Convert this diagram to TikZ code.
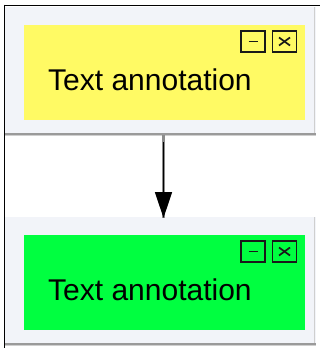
\documentclass[tikz,border=0pt]{standalone}
\usepackage{fontspec}
\setmainfont{Liberation Sans}
\usetikzlibrary{arrows.meta}
\definecolor{panelbg}{HTML}{F2F4F9}
\definecolor{shadowA}{HTML}{9A9A9A}
\definecolor{shadowB}{HTML}{CFCFCF}
\definecolor{noteyellow}{HTML}{FFFA64}
\definecolor{notegreen}{HTML}{00FF40}
\tikzset{
  panel/.style={fill=panelbg, draw=none, anchor=north west, inner sep=0pt,
    minimum width=311pt, minimum height=126pt},
  notebox/.style={draw=none, anchor=north west, inner sep=0pt,
    minimum width=281pt, minimum height=95pt},
  notetext/.style={anchor=base west, inner sep=0pt, text=black,
    font=\fontsize{30}{30}\selectfont},
  btn/.style={draw=black!90, line width=1.7pt, inner sep=0pt,
    minimum width=24pt, minimum height=21pt},
  btnmark/.style={black!90, line width=1.7pt},
  shadow/.style={shadowA, line width=1.6pt},
  shadowlight/.style={shadowB, line width=1pt},
  frame/.style={black, line width=1.6pt},
  linkshade/.style={black!45, line width=3.4pt},
  linkarrow/.style={black, line width=1.4pt, -{Triangle[length=26pt, width=17pt]}}
}
\begin{document}
\begin{tikzpicture}[x=1pt, y=-1pt]
\useasboundingbox[fill=white] (0,0) rectangle (320,348);
% panels
\node[panel] (p1) at (5,7) {};
\node[panel] (p2) at (5,217) {};
% panel shadows (right and bottom edges)
\draw[shadowlight] (p1.north east) ++(-1.5,0) -- ++(0,126);
\draw[shadow] (p1.south west) ++(0,0.5) -- ++(311,0);
\draw[shadowlight] (p1.south west) ++(0,2) -- ++(311,0);
\draw[shadowlight] (p2.north east) ++(-1.5,0) -- ++(0,126);
\draw[shadow] (p2.south west) ++(0,0.5) -- ++(311,0);
\draw[shadowlight] (p2.south west) ++(0,2) -- ++(311,0);
% coloured notes
\node[notebox, fill=noteyellow] (n1) at (24,25) {};
\node[notebox, fill=notegreen] (n2) at (24,235) {};
% texts
\node[notetext] (t1) at (48,90.5) {Text annotation};
\node[notetext] (t2) at (48,300) {Text annotation};
% buttons top
\node[btn] (m1) at (253,41.5) {};
\node[btn] (c1) at (284.5,41.5) {};
\draw[btnmark] ([xshift=-4.5pt]m1.center) -- ([xshift=4.5pt]m1.center);
\draw[btnmark] ([shift={(-5.5,-4)}]c1.center) -- ([shift={(5.5,4)}]c1.center);
\draw[btnmark] ([shift={(-5.5,4)}]c1.center) -- ([shift={(5.5,-4)}]c1.center);
% buttons bottom
\node[btn] (m2) at (253,251.5) {};
\node[btn] (c2) at (284.5,251.5) {};
\draw[btnmark] ([xshift=-4.5pt]m2.center) -- ([xshift=4.5pt]m2.center);
\draw[btnmark] ([shift={(-5.5,-4)}]c2.center) -- ([shift={(5.5,4)}]c2.center);
\draw[btnmark] ([shift={(-5.5,4)}]c2.center) -- ([shift={(5.5,-4)}]c2.center);
% connector
\coordinate (top) at (163.5,135);
\coordinate (bot) at (163.5,218);
\coordinate (blackstart) at (163.5,142);
\draw[linkshade] (top) -- (bot);
\draw[linkarrow] (blackstart) -- (bot);
% outer frame lines (top and left)
\draw[frame] (4,5.5) -- (320,5.5);
\draw[frame] (4.5,4.7) -- (4.5,348);
\end{tikzpicture}
\end{document}
